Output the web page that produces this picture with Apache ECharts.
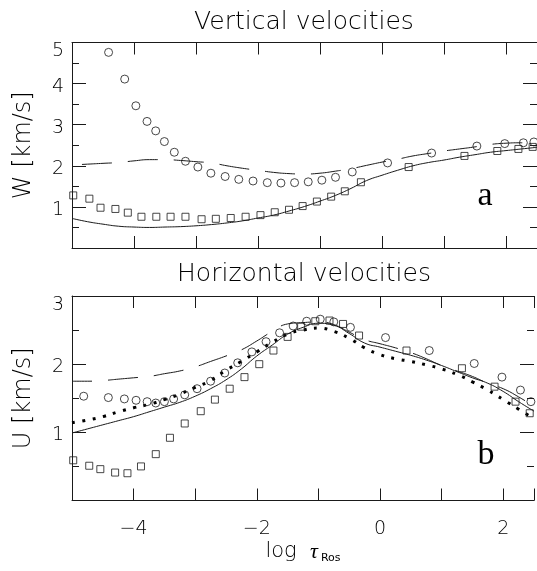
<!DOCTYPE html>
<html>
<head>
<meta charset="utf-8">
<script src="https://cdn.jsdelivr.net/npm/echarts@6/dist/echarts.min.js"></script>
<style>html,body{margin:0;padding:0;background:#fff;}#c{width:537px;height:571px;}</style>
</head>
<body>
<div id="c"></div>
<script>
// ---- data ----
const lineX = [-5, -4.75, -4.5, -4.25, -4, -3.75, -3.5, -3.25, -3, -2.75, -2.5, -2.25, -2, -1.75, -1.5, -1.25, -1, -0.75, -0.5, -0.25, 0, 0.25, 0.5, 0.75, 1, 1.25, 1.5, 1.75, 2, 2.25, 2.5];
// Vertical velocities W
const wSolid = [0.72, 0.64, 0.58, 0.53, 0.51, 0.50, 0.51, 0.52, 0.54, 0.57, 0.61, 0.66, 0.73, 0.80, 0.90, 1.01, 1.14, 1.28, 1.45, 1.64, 1.77, 1.89, 2.00, 2.08, 2.14, 2.21, 2.27, 2.33, 2.37, 2.41, 2.45];
const wDash  = [2.02, 2.04, 2.06, 2.08, 2.12, 2.15, 2.15, 2.13, 2.10, 2.07, 2.00, 1.94, 1.89, 1.84, 1.81, 1.80, 1.82, 1.87, 1.93, 2.01, 2.09, 2.16, 2.24, 2.30, 2.36, 2.41, 2.46, 2.52, 2.55, 2.56, 2.56];
const topCircX = [-4.41, -4.15, -3.97, -3.79, -3.65, -3.51, -3.35, -3.17, -2.97, -2.76, -2.53, -2.31, -2.08, -1.85, -1.63, -1.41, -1.19, -0.97, -0.75, -0.48, 0.09, 0.80, 1.53, 1.98, 2.28, 2.45];
const wCirc = [4.76, 4.11, 3.46, 3.08, 2.85, 2.59, 2.33, 2.11, 1.97, 1.82, 1.74, 1.67, 1.63, 1.59, 1.58, 1.59, 1.61, 1.65, 1.72, 1.85, 2.07, 2.31, 2.48, 2.54, 2.56, 2.58];
const sqX = [-4.98, -4.72, -4.54, -4.30, -4.10, -3.88, -3.64, -3.41, -3.17, -2.91, -2.68, -2.44, -2.20, -1.96, -1.73, -1.50, -1.28, -1.05, -0.82, -0.60, -0.34, 0.43, 1.33, 1.86, 2.20, 2.43];
const wSq = [1.28, 1.20, 0.98, 0.95, 0.86, 0.76, 0.76, 0.76, 0.76, 0.70, 0.71, 0.73, 0.76, 0.80, 0.87, 0.93, 1.02, 1.13, 1.25, 1.38, 1.60, 1.97, 2.24, 2.36, 2.41, 2.46];
// Horizontal velocities U
const uSolid = [0.99, 1.05, 1.11, 1.17, 1.23, 1.30, 1.37, 1.44, 1.53, 1.64, 1.77, 1.93, 2.12, 2.28, 2.44, 2.54, 2.60, 2.57, 2.45, 2.31, 2.25, 2.19, 2.13, 2.06, 1.98, 1.89, 1.80, 1.72, 1.60, 1.45, 1.31];
const uDash  = [1.75, 1.75, 1.76, 1.78, 1.80, 1.82, 1.86, 1.90, 1.96, 2.04, 2.12, 2.21, 2.34, 2.48, 2.59, 2.61, 2.62, 2.58, 2.47, 2.36, 2.30, 2.24, 2.17, 2.08, 1.98, 1.90, 1.82, 1.72, 1.64, 1.52, 1.38];
const uDot   = [1.14, 1.18, 1.23, 1.30, 1.36, 1.41, 1.48, 1.56, 1.66, 1.76, 1.91, 2.04, 2.18, 2.32, 2.44, 2.50, 2.53, 2.48, 2.38, 2.24, 2.14, 2.08, 2.04, 1.99, 1.93, 1.85, 1.74, 1.62, 1.48, 1.34, 1.20];
const botCircX = [-4.81, -4.41, -4.15, -3.96, -3.78, -3.64, -3.50, -3.35, -3.17, -2.97, -2.75, -2.52, -2.31, -2.08, -1.85, -1.63, -1.41, -1.19, -0.97, -0.75, -0.48, 0.09, 0.80, 1.53, 1.98, 2.28, 2.45];
const uCirc = [1.53, 1.51, 1.49, 1.47, 1.45, 1.43, 1.45, 1.49, 1.55, 1.64, 1.75, 1.87, 2.02, 2.18, 2.33, 2.46, 2.56, 2.63, 2.66, 2.62, 2.54, 2.39, 2.20, 2.01, 1.81, 1.62, 1.45];
const uSq = [0.59, 0.51, 0.46, 0.41, 0.40, 0.50, 0.68, 0.92, 1.13, 1.31, 1.48, 1.64, 1.81, 2.00, 2.20, 2.40, 2.55, 2.63, 2.64, 2.59, 2.42, 2.20, 1.94, 1.67, 1.45, 1.28];
const xTickLabels = [-4, -2, 0, 2];

const zip = (xs, ys) => xs.map((x, i) => [x, ys[i]]);
const INK = '#1a1a1a';
const TXT = '#000';
const FONT = 'DejaVu Sans';
const FW = 200;

function xAx(grid, pos, len, labels) {
  return {
    type: 'value', gridIndex: grid, position: pos, min: -5, max: 2.5, interval: 1,
    axisLine: { show: true, onZero: false, lineStyle: { color: INK, width: 1 } },
    axisTick: { show: true, inside: true, length: len, lineStyle: { color: INK, width: 1 } },
    splitLine: { show: false },
    axisLabel: labels ? {
      show: true, margin: 19, color: TXT, fontFamily: FONT, fontWeight: FW, fontSize: 19,
      formatter: v => xTickLabels.indexOf(v) >= 0 ? (v < 0 ? '\u2212' + Math.abs(v) : String(v)) : ''
    } : { show: false }
  };
}
function yAx(grid, pos, max, name) {
  const o = {
    type: 'value', gridIndex: grid, position: pos, min: 0, max: max, interval: 1,
    axisLine: { show: pos === 'left', onZero: false, lineStyle: { color: INK, width: 1 } },
    axisTick: { show: true, inside: true, length: 14, lineStyle: { color: INK, width: 1 } },
    minorTick: { show: true, splitNumber: 2, length: 7, lineStyle: { color: INK, width: 1 } },
    splitLine: { show: false }, minorSplitLine: { show: false },
    axisLabel: { show: false }
  };
  if (pos === 'left') {
    o.axisLabel = {
      show: true, margin: 8, color: TXT,
      formatter: v => v === 0 ? '' : (v === max ? '{t|' + v + '}' : '{n|' + v + '}'),
      rich: {
        t: { fontFamily: FONT, fontWeight: FW, fontSize: 19, color: TXT, padding: [18, 0, 0, 0] },
        n: { fontFamily: FONT, fontWeight: FW, fontSize: 19, color: TXT, padding: [6, 0, 0, 0] }
      }
    };
    o.name = name; o.nameLocation = 'middle'; o.nameGap = 36; o.nameRotate = 90;
    o.nameTextStyle = { fontFamily: FONT, fontWeight: FW, fontSize: 24, color: TXT };
  }
  return o;
}

const chart = echarts.init(document.getElementById('c'), null, { renderer: 'canvas' });
const bx = xAx(1, 'bottom', 12, true);
bx.name = '{l|log  }{t|\u03c4}{s|Ros}';
bx.nameLocation = 'middle';
bx.nameGap = 40;
bx.nameTextStyle = {
  rich: {
    l: { fontFamily: FONT, fontWeight: FW, fontSize: 21, color: TXT },
    t: { fontFamily: 'Liberation Serif', fontSize: 22, fontStyle: 'italic', color: TXT },
    s: { fontFamily: FONT, fontSize: 11, color: TXT, padding: [12, 0, 0, 3] }
  }
};

const marker = (sym, size) => ({
  type: 'scatter', symbol: sym, symbolSize: size,
  itemStyle: { color: 'rgba(0,0,0,0)', borderColor: INK, borderWidth: 1 },
  silent: true, z: 3
});
const line = (extra) => Object.assign({
  type: 'line', showSymbol: false, symbol: 'none', smooth: true, silent: true, z: 2
}, extra);

chart.setOption({
  animation: false,
  backgroundColor: '#fff',
  grid: [
    { left: 72, right: -1, top: 42.5, height: 205.5 },
    { left: 72, right: -1, top: 296, height: 204.5 }
  ],
  xAxis: [
    xAx(0, 'bottom', 12, false),
    xAx(0, 'top', 12, false),
    bx,
    xAx(1, 'top', 12, false)
  ],
  yAxis: [
    yAx(0, 'left', 5, 'W [km/s]'),
    yAx(0, 'right', 5),
    yAx(1, 'left', 3, 'U [km/s]'),
    yAx(1, 'right', 3)
  ],
  graphic: [
    { type: 'text', x: 304, y: 22, style: { text: 'Vertical velocities', fill: TXT, font: '200 25px "DejaVu Sans"', textAlign: 'center', textVerticalAlign: 'middle' } },
    { type: 'text', x: 304, y: 274, style: { text: 'Horizontal velocities', fill: TXT, font: '200 25px "DejaVu Sans"', textAlign: 'center', textVerticalAlign: 'middle' } },
    { type: 'text', x: 485, y: 196, style: { text: 'a', fill: TXT, font: '34px "Liberation Serif"', textAlign: 'center', textVerticalAlign: 'middle' } },
    { type: 'text', x: 486, y: 455, style: { text: 'b', fill: TXT, font: '34px "Liberation Serif"', textAlign: 'center', textVerticalAlign: 'middle' } }
  ],
  series: [
    line({ xAxisIndex: 0, yAxisIndex: 0, data: zip(lineX, wSolid), lineStyle: { color: INK, width: 1 } }),
    line({ xAxisIndex: 0, yAxisIndex: 0, data: zip(lineX, wDash), lineStyle: { color: INK, width: 1, type: [30, 16], dashOffset: 36 } }),
    Object.assign(marker('circle', 8), { xAxisIndex: 0, yAxisIndex: 0, data: zip(topCircX, wCirc) }),
    Object.assign(marker('rect', 7), { xAxisIndex: 0, yAxisIndex: 0, data: zip(sqX, wSq) }),

    line({ xAxisIndex: 2, yAxisIndex: 2, data: zip(lineX, uSolid), lineStyle: { color: INK, width: 1 } }),
    line({ xAxisIndex: 2, yAxisIndex: 2, data: zip(lineX, uDash), lineStyle: { color: INK, width: 1, type: [30, 16], dashOffset: 10 } }),
    line({ xAxisIndex: 2, yAxisIndex: 2, data: zip(lineX, uDot), lineStyle: { color: '#000', width: 3, type: [3, 7.5], cap: 'butt' } }),
    Object.assign(marker('circle', 8), { xAxisIndex: 2, yAxisIndex: 2, data: zip(botCircX, uCirc) }),
    Object.assign(marker('rect', 7), { xAxisIndex: 2, yAxisIndex: 2, data: zip(sqX, uSq) })
  ]
});
</script>
</body>
</html>
